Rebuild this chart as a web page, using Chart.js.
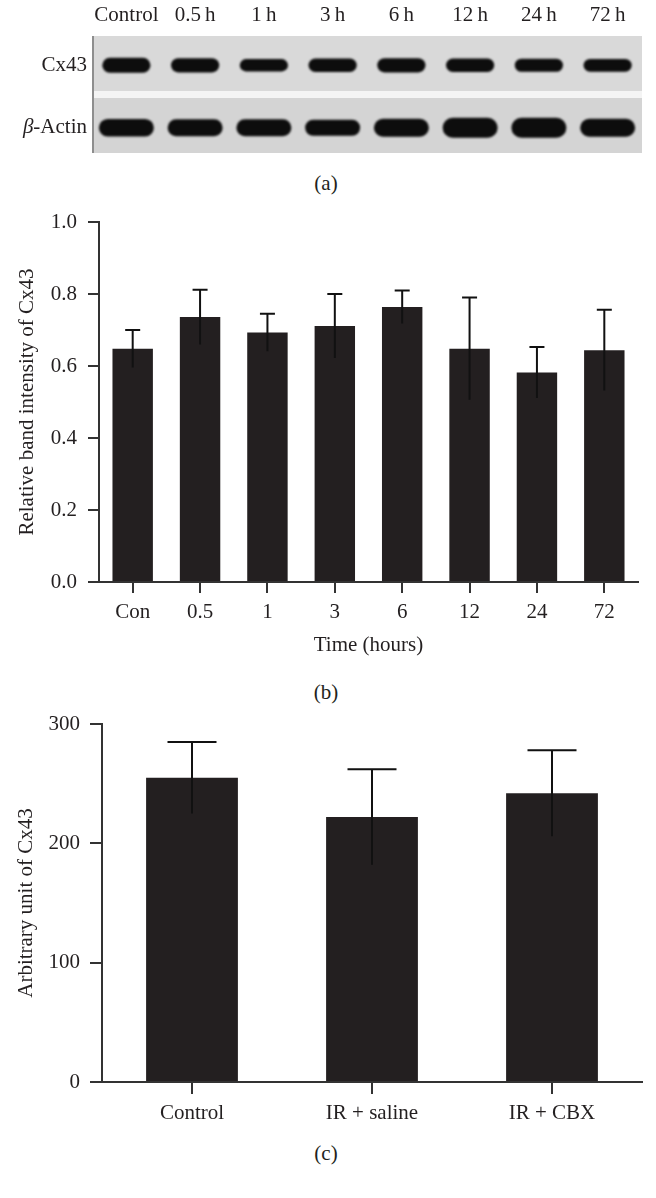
<!DOCTYPE html>
<html lang="en">
<head>
    <meta charset="UTF-8">
    <title>Cx43 expression</title>
    <script src="https://cdn.jsdelivr.net/npm/chart.js"></script>
    <style>
        body { margin: 0; background: #fff; }
        #page { position: relative; width: 656px; height: 1198px; font-family: 'Liberation Serif', serif; color: #231f20; }
        canvas { position: absolute; left: 0; }
        .tag { position: absolute; left: 0; width: 652px; text-align: center; font-size: 21px; line-height: 24px; }
    </style>
</head>
<body>
<div id="page">
    <canvas id="blot" width="656" height="170" style="top:0"></canvas>
    <div class="tag" style="top:171px">(a)</div>
    <canvas id="timeChart" width="656" height="480" style="top:190px"></canvas>
    <div class="tag" style="top:680px">(b)</div>
    <canvas id="groupChart" width="656" height="450" style="top:690px"></canvas>
    <div class="tag" style="top:1141px">(c)</div>
</div>

<script>
    // (a) western blot lanes and relative band density
    const laneLabels = ['Control', '0.5\u2009h', '1\u2009h', '3\u2009h', '6\u2009h', '12\u2009h', '24\u2009h', '72\u2009h'];
    const blotRows = ['Cx43', 'β-Actin'];
    const cx43Density = [1.0, 0.95, 0.82, 0.9, 0.95, 0.9, 0.88, 0.85];
    const actinDensity = [0.88, 0.85, 0.85, 0.8, 0.9, 1.0, 1.0, 0.9];

    // (b) relative band intensity over time
    const timeLabels = ['Con', '0.5', '1', '3', '6', '12', '24', '72'];
    const timeMean = [0.648, 0.736, 0.693, 0.711, 0.764, 0.648, 0.582, 0.644];
    const timeErr = [0.052, 0.076, 0.052, 0.089, 0.046, 0.142, 0.071, 0.112];

    // (c) arbitrary unit per group
    const groupLabels = ['Control', 'IR + saline', 'IR + CBX'];
    const groupMean = [255, 222, 242];
    const groupErr = [30, 40, 36];

    Chart.defaults.font.family = "'Liberation Serif', serif";
    Chart.defaults.font.size = 21;
    Chart.defaults.color = '#231f20';

    const ink = '#231f20';

    // draws gel strips and bands on the lane / row scales
    const blotPlugin = {
        id: 'blotBands',
        beforeDatasetsDraw(chart) {
            const { ctx, chartArea: a, scales: { x, y } } = chart;
            const gap = 7;
            const mid = (y.getPixelForValue(0) + y.getPixelForValue(1)) / 2;
            const laneW = x.getPixelForValue(1) - x.getPixelForValue(0);
            ctx.save();
            ctx.fillStyle = '#f4f4f4';
            ctx.fillRect(a.left, a.top, a.width, a.height);
            ctx.fillStyle = '#d9d9d9';
            ctx.fillRect(a.left, a.top, a.width, mid - gap / 2 - a.top);
            ctx.fillStyle = '#d4d4d4';
            ctx.fillRect(a.left, mid + gap / 2, a.width, a.bottom - mid - gap / 2);
            ctx.fillStyle = '#8e8e8e';
            ctx.fillRect(a.left, a.top, 2, a.height);

            const rows = [
                { density: cx43Density, w: 0.7, h: 15 },
                { density: actinDensity, w: 0.8, h: 20 }
            ];
            ctx.filter = 'blur(1.2px)';
            ctx.fillStyle = '#0d0d0d';
            rows.forEach((row, r) => {
                const yc = y.getPixelForValue(r) + (r === 1 ? 4 : 0);
                row.density.forEach((d, i) => {
                    const xc = x.getPixelForValue(i);
                    const w = laneW * row.w;
                    const h = row.h * d;
                    ctx.beginPath();
                    ctx.roundRect(xc - w / 2, yc - h / 2, w, h, h / 2);
                    ctx.fill();
                });
            });
            ctx.restore();
        },
        afterDraw(chart) {
            const { ctx, chartArea: a, scales: { y } } = chart;
            const right = a.left - 5;
            ctx.save();
            ctx.fillStyle = ink;
            ctx.textBaseline = 'middle';
            ctx.textAlign = 'right';
            ctx.font = "21px 'Liberation Serif'";
            ctx.fillText('Cx43', right, y.getPixelForValue(0));
            const yb = y.getPixelForValue(1) + 4;
            ctx.fillText('-Actin', right, yb);
            const w = ctx.measureText('-Actin').width;
            ctx.font = "italic 21px 'Liberation Serif'";
            ctx.fillText('β', right - w, yb);
            ctx.restore();
        }
    };

    // error bars on top of each bar
    const errorBars = {
        id: 'errorBars',
        afterDatasetsDraw(chart, args, opts) {
            const { ctx, scales: { y } } = chart;
            const ds = chart.data.datasets[0];
            const meta = chart.getDatasetMeta(0);
            ctx.save();
            ctx.strokeStyle = '#111';
            ctx.lineWidth = 2;
            meta.data.forEach((bar, i) => {
                const top = y.getPixelForValue(ds.data[i] + ds.errors[i]);
                const bot = y.getPixelForValue(ds.data[i] - ds.errors[i]);
                ctx.beginPath();
                ctx.moveTo(bar.x, bot);
                ctx.lineTo(bar.x, top);
                ctx.moveTo(bar.x - opts.cap / 2, top);
                ctx.lineTo(bar.x + opts.cap / 2, top);
                ctx.stroke();
            });
            ctx.restore();
        }
    };

    new Chart(document.getElementById('blot'), {
        type: 'bar',
        data: { labels: laneLabels, datasets: [] },
        options: {
            responsive: false,
            animation: false,
            layout: { padding: { top: 0, right: 14, bottom: 17, left: 0 } },
            plugins: { legend: { display: false }, tooltip: { enabled: false } },
            scales: {
                x: {
                    position: 'top',
                    offset: true,
                    grid: { display: false },
                    border: { display: false },
                    ticks: { padding: 0, maxRotation: 0, autoSkip: false },
                    afterFit: s => { s.height = 36; }
                },
                y: {
                    type: 'category',
                    labels: blotRows,
                    offset: true,
                    grid: { display: false },
                    border: { display: false },
                    ticks: { display: false },
                    afterFit: s => { s.width = 92; }
                }
            }
        },
        plugins: [blotPlugin]
    });

    function axisStyle(tick, pad) {
        return {
            grid: { display: true, drawOnChartArea: false, drawTicks: true, tickLength: tick, color: '#333', lineWidth: 2, offset: false },
            border: { display: true, color: '#333', width: 2 },
            ticks: { padding: pad, maxRotation: 0, autoSkip: false, color: ink }
        };
    }

    new Chart(document.getElementById('timeChart'), {
        type: 'bar',
        data: {
            labels: timeLabels,
            datasets: [{
                data: timeMean,
                errors: timeErr,
                backgroundColor: ink,
                barPercentage: 0.6,
                categoryPercentage: 1.0
            }]
        },
        options: {
            responsive: false,
            animation: false,
            layout: { padding: { top: 32, right: 18, bottom: 0, left: 0 } },
            plugins: { legend: { display: false }, tooltip: { enabled: false }, errorBars: { cap: 15 } },
            scales: {
                x: {
                    ...axisStyle(11, 7),
                    title: { display: true, text: 'Time (hours)', padding: { top: 0, bottom: 12 } },
                    afterFit: s => { s.height = 88; }
                },
                y: {
                    ...axisStyle(11, 11),
                    min: 0,
                    max: 1,
                    ticks: { stepSize: 0.2, padding: 11, color: ink, callback: v => v.toFixed(1) },
                    title: { display: true, text: 'Relative band intensity of Cx43', padding: { top: 15, bottom: 0 } },
                    afterFit: s => { s.width = 99; }
                }
            }
        },
        plugins: [errorBars]
    });

    new Chart(document.getElementById('groupChart'), {
        type: 'bar',
        data: {
            labels: groupLabels,
            datasets: [{
                data: groupMean,
                errors: groupErr,
                backgroundColor: ink,
                barPercentage: 0.51,
                categoryPercentage: 1.0
            }]
        },
        options: {
            responsive: false,
            animation: false,
            layout: { padding: { top: 34, right: 14, bottom: 0, left: 0 } },
            plugins: { legend: { display: false }, tooltip: { enabled: false }, errorBars: { cap: 49 } },
            scales: {
                x: {
                    ...axisStyle(12, 7),
                    afterFit: s => { s.height = 58; }
                },
                y: {
                    ...axisStyle(12, 10),
                    min: 0,
                    max: 300,
                    ticks: { stepSize: 100, padding: 10, color: ink },
                    title: { display: true, text: 'Arbitrary unit of Cx43', padding: { top: 14, bottom: 0 } },
                    afterFit: s => { s.width = 102; }
                }
            }
        },
        plugins: [errorBars]
    });
</script>
</body>
</html>
